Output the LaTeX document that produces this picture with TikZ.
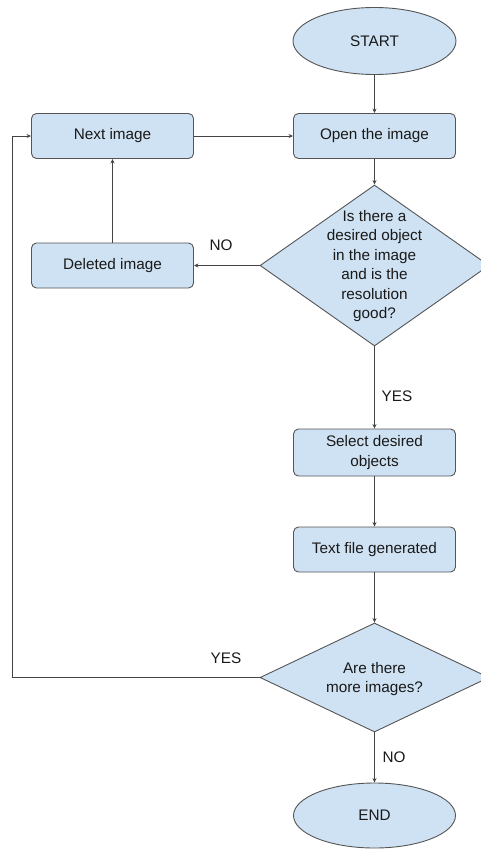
\documentclass[tikz,border=0pt]{standalone}
\usepackage{fontspec}
\setmainfont{Liberation Sans}
\usetikzlibrary{shapes.geometric,arrows.meta}
\definecolor{boxfill}{HTML}{CFE2F3}
\definecolor{edge}{HTML}{555555}
\definecolor{wire}{HTML}{444444}
\tikzset{
  every node/.style={font=\fontsize{15.3}{19.4}\selectfont, text=black!90},
  procbox/.style={draw=edge, fill=boxfill, line width=0.9pt, rounded corners=5pt,
    minimum width=162pt, minimum height=45pt, align=center, inner sep=2pt},
  terminal/.style={draw=edge, fill=boxfill, line width=0.9pt, ellipse,
    minimum width=163pt, minimum height=67pt, inner sep=0pt},
  decision/.style={draw=edge, fill=boxfill, line width=0.9pt, diamond, aspect=1,
    inner sep=0pt},
  dtext/.style={align=center, inner sep=0pt},
  lbl/.style={inner sep=0pt},
  flow/.style={draw=wire, line width=0.9pt, -{Stealth[length=4.5pt,width=4pt]}}
}
\begin{document}
\begin{tikzpicture}[x=1pt,y=-1pt]
\useasboundingbox (0,0) rectangle (481,849);
\node[terminal] (start) at (374.5,41) {START};
\node[procbox] (open) at (374.5,136) {Open the image};
\node[procbox] (next) at (112.5,136) {Next image};
\node[decision, minimum width=229pt, minimum height=161pt] (d1) at (374.5,265.5) {};
\node[dtext] (d1t) at (374.5,266) {Is there a\\desired object\\in the image\\and is the\\resolution\\good?};
\node[procbox] (del) at (112.5,265.5) {Deleted image};
\node[procbox, minimum height=47pt] (sel) at (374.5,452.5) {Select desired\\objects};
\node[procbox] (txt) at (374.5,549.5) {Text file generated};
\node[decision, minimum width=229pt, minimum height=109pt] (d2) at (374.5,677.5) {};
\node[dtext] (d2t) at (374.5,679) {Are there\\more images?};
\node[terminal, minimum width=162pt, minimum height=65pt] (end) at (374.5,815.5) {END};

\node[lbl] (lno1) at (221,245) {NO};
\node[lbl] (lyes1) at (397,396) {YES};
\node[lbl] (lyes2) at (226,658) {YES};
\node[lbl] (lno2) at (394,757) {NO};

\coordinate (loopc) at (12,677.5);

\draw[flow] (start) -- (open);
\draw[flow] (open) -- (d1);
\draw[flow] (next) -- (open);
\draw[flow] (d1.west) -- (del.east);
\draw[flow] (del) -- (next);
\draw[flow] (d1) -- (sel);
\draw[flow] (sel) -- (txt);
\draw[flow] (txt) -- (d2);
\draw[flow] (d2) -- (end);
\draw[flow] (d2.west) -- (loopc) |- (next.west);
\end{tikzpicture}
\end{document}
